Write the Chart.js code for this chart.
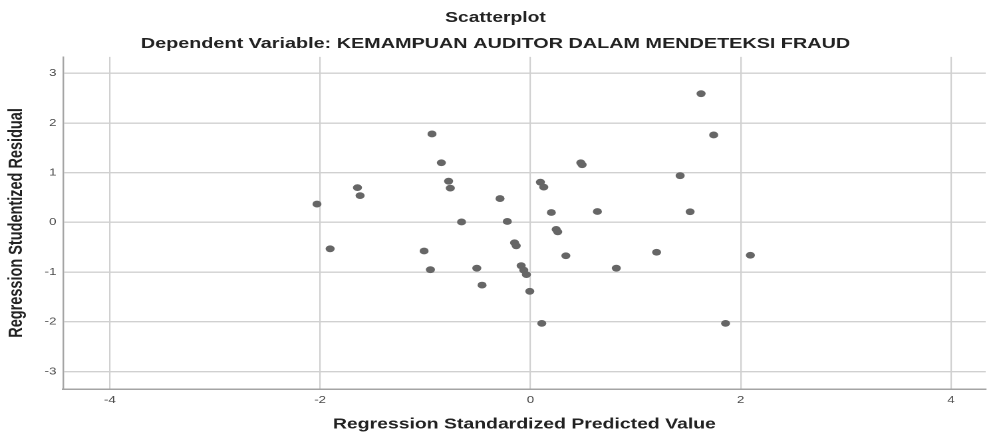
<!DOCTYPE html>
<html lang="en">
<head>
    <meta charset="UTF-8">
    <title>Scatterplot</title>
    <script src="https://cdn.jsdelivr.net/npm/chart.js"></script>
    <style>
        body { margin: 0; background: #fff; }
    </style>
</head>
<body>
    <!-- the reference is stretched sideways, so the canvas is drawn narrower and widened by CSS -->
    <canvas id="scatter" width="745" height="433" style="width: 991px; height: 433px; display: block;"></canvas>

    <script>
        // Values
        const predicted = [-2.03, -1.905, -1.645, -1.62, -0.936, -0.847, -0.778, -0.762, -0.655, -0.289,
                           -0.22, -1.011, -0.951, -0.51, -0.46, -0.151, -0.135, -0.088, -0.063, -0.038,
                           -0.006, 0.108, 0.095, 0.127, 0.199, 0.245, 0.26, 0.337, 0.479, 0.492,
                           0.637, 0.817, 1.20, 1.623, 1.743, 1.424, 1.519, 2.092, 1.856];
        const residual  = [0.37, -0.53, 0.70, 0.54, 1.78, 1.20, 0.83, 0.69, 0.01, 0.48,
                           0.02, -0.575, -0.95, -0.92, -1.26, -0.41, -0.47, -0.87, -0.96, -1.05,
                           -1.385, -2.03, 0.81, 0.71, 0.20, -0.14, -0.19, -0.67, 1.20, 1.16,
                           0.22, -0.92, -0.60, 2.59, 1.76, 0.94, 0.215, -0.66, -2.03];
        const xTicks = [-4, -2, 0, 2, 4];
        const yTicks = [-3, -2, -1, 0, 1, 2, 3];

        const points = predicted.map((x, i) => ({ x: x, y: residual[i] }));
        const font = 'Liberation Sans, Arial, sans-serif';

        const ctx = document.getElementById('scatter').getContext('2d');
        new Chart(ctx, {
            type: 'scatter',
            data: {
                datasets: [{
                    data: points,
                    pointRadius: 3.4,
                    pointBackgroundColor: '#666',
                    pointBorderWidth: 0
                }]
            },
            options: {
                responsive: false,
                devicePixelRatio: 2,
                animation: false,
                layout: { padding: 0 },
                plugins: {
                    legend: { display: false },
                    tooltip: { enabled: false },
                    title: {
                        display: true,
                        text: 'Scatterplot',
                        color: '#222',
                        font: { family: font, size: 14.5, weight: 'bold' },
                        padding: { top: 9.3, bottom: 4.1 }
                    },
                    subtitle: {
                        display: true,
                        text: 'Dependent Variable: KEMAMPUAN AUDITOR DALAM MENDETEKSI FRAUD',
                        color: '#222',
                        font: { family: font, size: 14.9, weight: 'bold' },
                        padding: { top: 4.1, bottom: 4.1 }
                    }
                },
                scales: {
                    x: {
                        type: 'linear',
                        min: -4.445,
                        max: 4.33,
                        afterFit: s => { s.height = 44; },
                        afterBuildTicks: s => { s.ticks = xTicks.map(v => ({ value: v })); },
                        ticks: { color: '#4a4a4a', font: { family: font, size: 10 }, padding: 5 },
                        grid: { color: '#d0d0d0', lineWidth: 1.1, drawTicks: false },
                        border: { color: '#a4a4a4', width: 1.5 },
                        title: {
                            display: true,
                            text: 'Regression Standardized Predicted Value',
                            color: '#222',
                            font: { family: font, size: 14.6, weight: 'bold' },
                            padding: { top: 0, bottom: 0 }
                        }
                    },
                    y: {
                        type: 'linear',
                        min: -3.35,
                        max: 3.33,
                        afterFit: s => { s.width = 47.4; },
                        afterBuildTicks: s => { s.ticks = yTicks.map(v => ({ value: v })); },
                        ticks: { color: '#4a4a4a', font: { family: font, size: 10 }, padding: 5 },
                        grid: { color: '#d0d0d0', lineWidth: 1.4, drawTicks: false },
                        border: { color: '#a4a4a4', width: 1.2 },
                        title: {
                            display: true,
                            text: 'Regression Studentized Residual',
                            color: '#222',
                            font: { family: font, size: 14.5, weight: 'bold' },
                            padding: { top: 4, bottom: 0 }
                        }
                    }
                }
            }
        });
    </script>
</body>
</html>
